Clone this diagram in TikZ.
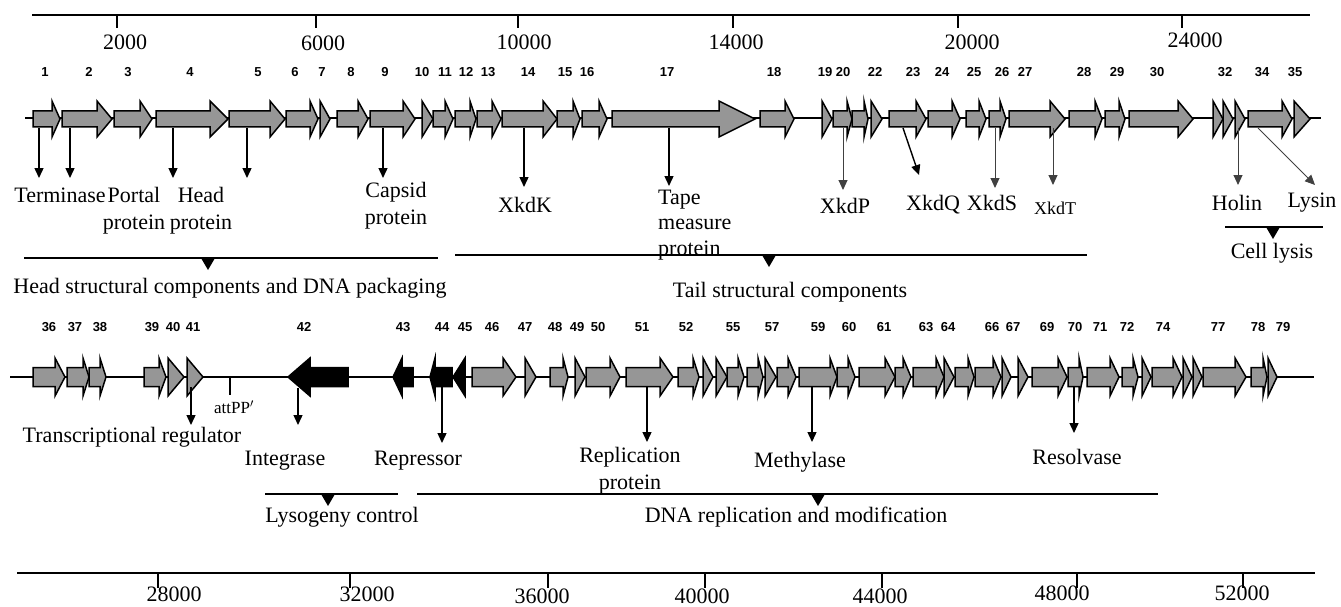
\documentclass[tikz,border=0pt]{standalone}
\usepackage{fontspec}
\setmainfont{Liberation Serif}
\newfontfamily\gnumfont{Liberation Sans}
\usetikzlibrary{arrows.meta}
\definecolor{genegray}{RGB}{150,150,150}
\newcommand{\fgene}[3]{\draw[genebox] (#1,\gyc-\gbh) -- (#2,\gyc-\gbh) -- (#2,\gyc-\ghh) -- (#3,\gyc) -- (#2,\gyc+\ghh) -- (#2,\gyc+\gbh) -- (#1,\gyc+\gbh) -- cycle;}
\newcommand{\tgene}[2]{\draw[genebox] (#1,\gyc-\ghh) -- (#2,\gyc) -- (#1,\gyc+\ghh) -- cycle;}
\newcommand{\rgene}[3]{\draw[genebox,fill=black] (#1,\gyc) -- (#2,\gyc-\ghh) -- (#2,\gyc-\gbh) -- (#3,\gyc-\gbh) -- (#3,\gyc+\gbh) -- (#2,\gyc+\gbh) -- (#2,\gyc+\ghh) -- cycle;}
\newcommand{\rtgene}[2]{\draw[genebox,fill=black] (#1,\gyc) -- (#2,\gyc-\ghh) -- (#2,\gyc+\ghh) -- cycle;}
\newcommand{\groupbar}[4]{\draw[barline] (#1,#3) -- (#2,#3); \fill (#4-7,#3) -- (#4+7,#3) -- (#4,#3+12) -- cycle;}
\tikzset{
  genebox/.style={draw=black, line width=1.5pt, fill=genegray, line join=miter},
  backbone/.style={line width=1.5pt},
  axisline/.style={line width=2.2pt},
  barline/.style={line width=2pt},
  lab/.style={inner sep=0pt, font=\fontsize{22}{27}\selectfont},
  axlab/.style={inner sep=0pt, font=\fontsize{22}{26}\selectfont},
  gnum/.style={inner sep=0pt, font=\gnumfont\bfseries\fontsize{13}{15}\selectfont},
  labarrow/.style={line width=1.4pt, -{Triangle[width=9pt,length=10pt]}},
  thinarrow/.style={line width=1pt, draw=black!75, -{Triangle[width=9pt,length=10pt]}},
}
\begin{document}
\begin{tikzpicture}[x=1pt,y=-1pt]
\useasboundingbox (0,0) rectangle (1341,607);
% ---------------- top axis
\draw[axisline] (32,15) -- (1310,15);
\foreach \tx/\lx/\ly/\t in {117/125/42/2000, 316/323/43/6000, 518/524/42/10000, 733/736/42/14000, 958/972/42/20000, 1182/1195/40/24000}{
  \draw[line width=1.3pt] (\tx,15) -- (\tx,28);
  \node[axlab] (ax\t) at (\lx,\ly) {\t};
}
% ---------------- top gene row
\def\gyc{119}\def\gbh{8}\def\ghh{18}
\draw[backbone] (25,118) -- (1321,118);
\fgene{33}{52}{60}
\fgene{62}{97}{112}
\fgene{114}{140}{152}
\fgene{156}{210}{228}
\fgene{229}{270}{285}
\fgene{286}{310}{318}
\tgene{320}{330}
\fgene{337}{358}{368}
\fgene{370}{403}{415}
\tgene{422}{433}
\fgene{433}{445}{453}
\fgene{455}{470}{476}
\fgene{477}{492}{501}
\fgene{502}{543}{557}
\fgene{557}{573}{580}
\fgene{582}{599}{607}
\fgene{612}{719}{755}
\fgene{760}{785}{794}
\tgene{822}{832}
\fgene{833}{847}{852}
\fgene{852}{864}{868}
\tgene{871}{882}
\fgene{889}{916}{926}
\fgene{928}{952}{960}
\fgene{966}{979}{986}
\fgene{989}{1000}{1006}
\fgene{1009}{1050}{1065}
\fgene{1069}{1095}{1102}
\fgene{1105}{1119}{1125}
\fgene{1129}{1178}{1193}
\tgene{1213}{1223}
\tgene{1223}{1233}
\tgene{1235}{1245}
\fgene{1248}{1282}{1292}
\tgene{1294}{1310}
\foreach \n/\x in {1/45, 2/89, 3/128, 4/190, 5/258, 6/295, 7/322, 8/351, 9/385, 10/422, 11/445, 12/466, 13/488, 14/528, 15/565, 16/587, 17/667, 18/774, 19/825, 20/843, 22/875, 23/913, 24/942, 25/974, 26/1002, 27/1025, 28/1084, 29/1117, 30/1157, 32/1225, 34/1262, 35/1295}{
  \node[gnum] (gn\n) at (\x,72) {\n};
}
% top labels
\node[lab] (terminase) at (60,195) {Terminase};
\node[lab,align=center] (portal) at (134,211) {Portal\\protein};
\node[lab,align=center] (headp) at (201,211) {Head\\protein};
\node[lab,align=center] (capsid) at (396,205.5) {Capsid\\protein};
\node[lab] (xkdk) at (525,205) {XkdK};
\node[lab,align=left,anchor=west,font=\fontsize{22}{25.5}\selectfont] (tape) at (658,225) {Tape\\measure\\protein};
\node[lab] (xkdp) at (845,206) {XkdP};
\node[lab] (xkdq) at (933,205) {XkdQ};
\node[lab] (xkds) at (992,203) {XkdS};
\node[lab,font=\fontsize{18}{22}\selectfont] (xkdt) at (1055,208) {XkdT};
\node[lab] (holin) at (1237,203) {Holin};
\node[lab] (lysin) at (1312,203) {Lysin};
% top arrows
\foreach \nm/\sx/\ex/\ey in {ta/39/39/178, tb/70/70/178, po/173/173/178, he/247/247/178, ca/383/383/178, xk/524/524/187, tp/669/669/186, xq/903/919/175}{
  \coordinate (\nm s) at (\sx,128);
  \coordinate (\nm e) at (\ex,\ey);
  \draw[labarrow] (\nm s) -- (\nm e);
}
\foreach \nm/\sx/\ex/\ey in {xp/843/843/190, xs/995/995/188, xt/1053/1053/185, ho/1238/1238/185, ly/1258/1315/185}{
  \coordinate (\nm s) at (\sx,128);
  \coordinate (\nm e) at (\ex,\ey);
  \draw[thinarrow] (\nm s) -- (\nm e);
}
% top group bars
\groupbar{24}{438}{258}{208}
\node[lab] (headgrp) at (230,288) {Head structural components and DNA packaging};
\groupbar{455}{1087}{255}{769}
\node[lab] (tailgrp) at (790,292) {Tail structural components};
\groupbar{1225}{1323}{227}{1273}
\node[lab] (lysisgrp) at (1272,253) {Cell lysis};
% ---------------- bottom gene row
\def\gyc{377}\def\gbh{9.5}\def\ghh{19}
\draw[backbone] (10,377) -- (1314,377);
\coordinate (attA) at (230,377);
\coordinate (attB) at (230,395);
\draw[line width=1.3pt] (attA) -- (attB);
\node[lab,font=\fontsize{17}{20}\selectfont] (attpp) at (234,407) {attPP$'$};
\fgene{33}{55}{65}
\fgene{67}{83}{89}
\fgene{89}{100}{106}
\fgene{144}{159}{166}
\tgene{168}{184}
\tgene{187}{203}
\rgene{288}{310}{348}
\rgene{393}{402}{413}
\rgene{430}{435}{452}
\rtgene{453}{465}
\fgene{472}{503}{516}
\tgene{525}{536}
\fgene{550}{563}{568}
\tgene{575}{585}
\fgene{586}{610}{620}
\fgene{626}{660}{673}
\fgene{678}{693}{699}
\tgene{703}{713}
\tgene{716}{727}
\fgene{727}{738}{744}
\fgene{747}{758}{763}
\tgene{765}{776}
\fgene{777}{788}{796}
\fgene{799}{830}{837}
\fgene{837}{848}{855}
\fgene{859}{885}{895}
\fgene{895}{903}{911}
\fgene{913}{936}{944}
\tgene{944}{954}
\fgene{955}{968}{974}
\fgene{975}{993}{1001}
\tgene{1002}{1011}
\tgene{1018}{1028}
\fgene{1032}{1058}{1067}
\fgene{1068}{1079}{1083}
\fgene{1087}{1110}{1119}
\fgene{1122}{1133}{1138}
\tgene{1142}{1151}
\fgene{1152}{1173}{1182}
\tgene{1183}{1192}
\tgene{1193}{1202}
\fgene{1203}{1235}{1246}
\fgene{1251}{1263}{1267}
\tgene{1268}{1277}
\foreach \n/\x in {36/49, 37/75, 38/100, 39/152, 40/173, 41/193, 42/304, 43/403, 44/442, 45/465, 46/492, 47/525, 48/555, 49/577, 50/598, 51/642, 52/686, 55/733, 57/772, 59/818, 60/849, 61/884, 63/926, 64/948, 66/992, 67/1013, 69/1047, 70/1075, 71/1100, 72/1127, 74/1163, 77/1218, 78/1258, 79/1283}{
  \node[gnum] (gn\n) at (\x,327) {\n};
}
% bottom arrows
\foreach \nm/\sx/\sy/\ey in {tr/191/387/425, in/298/388/425, re/442/387/443, rp/647/387/442, me/812/387/442, rs/1074/387/433}{
  \coordinate (\nm s) at (\sx,\sy);
  \coordinate (\nm e) at (\sx,\ey);
  \draw[labarrow] (\nm s) -- (\nm e);
}
% bottom labels
\node[lab] (transreg) at (132,437) {Transcriptional regulator};
\node[lab] (integrase) at (285,461) {Integrase};
\node[lab] (repressor) at (418,461) {Repressor};
\node[lab,align=center] (replic) at (630,470.5) {Replication\\protein};
\node[lab] (methylase) at (800,462) {Methylase};
\node[lab] (resolvase) at (1077,457) {Resolvase};
\groupbar{265}{398}{494}{328}
\node[lab] (lysogrp) at (342,517) {Lysogeny control};
\groupbar{417}{1158}{494}{818}
\node[lab] (dnagrp) at (796,517) {DNA replication and modification};
% ---------------- bottom axis
\draw[axisline] (17,573) -- (1315,573);
\foreach \tx/\lx/\ly/\t in {158/174/594/28000, 350/367/594/32000, 548/542/596/36000, 705/702/596/40000, 882/880/596/44000, 1077/1062/593/48000, 1243/1242/593/52000}{
  \draw[line width=1.3pt] (\tx,573) -- (\tx,588);
  \node[axlab] (bx\t) at (\lx,\ly) {\t};
}
\end{tikzpicture}
\end{document}
